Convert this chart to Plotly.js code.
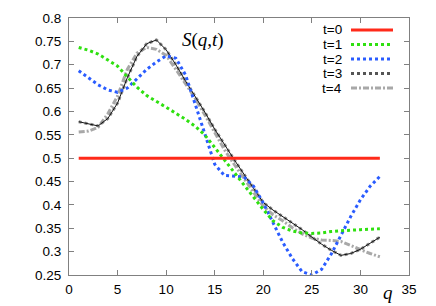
<!DOCTYPE html>
<html><head><meta charset="utf-8">
<script src="https://cdn.plot.ly/plotly-3.0.1.min.js"></script>
<style>html,body{margin:0;padding:0;background:#fff}#chart{width:436px;height:306px}</style>
</head><body><div id="chart"></div>
<script>
const q = [1,2,3,4,5,6,7,8,9,10,11,12,13,14,15,16,17,18,19,20,21,22,23,24,25,26,27,28,29,30,31,32];
const t0 = q.map(() => 0.5);
const t1 = [0.737,0.731,0.723,0.710,0.697,0.674,0.652,0.634,0.622,0.609,0.596,0.583,0.568,0.549,0.523,0.496,0.470,0.442,0.415,0.390,0.366,0.352,0.344,0.340,0.339,0.340,0.343,0.345,0.346,0.347,0.348,0.349];
const t2 = [0.687,0.672,0.657,0.646,0.641,0.650,0.670,0.690,0.706,0.719,0.714,0.678,0.615,0.553,0.487,0.463,0.461,0.460,0.440,0.404,0.362,0.320,0.285,0.257,0.250,0.262,0.295,0.335,0.375,0.411,0.440,0.461];
const t3 = [0.578,0.573,0.569,0.585,0.618,0.672,0.718,0.745,0.753,0.732,0.700,0.665,0.632,0.598,0.562,0.528,0.497,0.466,0.435,0.405,0.389,0.375,0.361,0.347,0.331,0.316,0.303,0.292,0.296,0.305,0.318,0.331];
const t4 = [0.556,0.558,0.566,0.595,0.633,0.690,0.725,0.737,0.733,0.720,0.690,0.660,0.628,0.592,0.555,0.518,0.487,0.457,0.427,0.397,0.379,0.366,0.351,0.338,0.329,0.325,0.324,0.322,0.313,0.304,0.296,0.289];
const names = ['t=0','t=1','t=2','t=3','t=4'];

const series = [t0,t1,t2,t3,t4];
const styles = [
  {color:'#ff2a1a', width:3, dash:'solid'},
  {color:'#2fe010', width:3, dash:'dot'},
  {color:'#2a5cff', width:3, dash:'dot'},
  {color:'#8a8a8a', width:3, dash:'dot'},
  {color:'#a8a8a8', width:3, dash:'6px,2px,2px,2px'}
];
const traces = [];
[4,3,2,1,0].forEach(i => {
  traces.push({x:q, y:series[i], type:'scatter', mode:'lines', name:names[i],
    line:styles[i], showlegend:false, hoverinfo:'skip'});
  if (i === 3) traces.push({x:q, y:series[i], type:'scatter', mode:'lines', name:names[i],
    line:{color:'#111', width:1}, showlegend:false, hoverinfo:'skip'});
});

const L = 69, R = 409, T = 18, B = 275;
const px = v => (v - L) / (R - L);
const py = v => (B - v) / (B - T);
const shapes = [], annotations = [];
names.forEach((n, i) => {
  const yy = py(30 + 14.5 * i);
  const st = i === 3 ? {color:'#555', width:3, dash:'dot'} : styles[i];
  shapes.push({type:'line', xref:'paper', yref:'paper', x0:px(351), x1:px(393), y0:yy, y1:yy, line:st});
  annotations.push({xref:'paper', yref:'paper', x:px(344), y:yy, xanchor:'right', yanchor:'middle', text:n, showarrow:false,
    font:{family:'Liberation Sans, Arial, sans-serif', size:13.5, color:'#000'}});
});
annotations.push({xref:'paper', yref:'paper', x:px(203), y:py(40), xanchor:'center', yanchor:'middle', text:'<i>S</i>(<i>q</i>,<i>t</i>)', showarrow:false,
  font:{family:'Liberation Serif, Times New Roman, serif', size:19, color:'#000'}});
annotations.push({xref:'paper', yref:'paper', x:px(388), y:py(292), xanchor:'center', yanchor:'middle', text:'<i>q</i>', showarrow:false,
  font:{family:'Liberation Serif, Times New Roman, serif', size:19, color:'#000'}});

const axisCommon = {showgrid:false, zeroline:false, showline:true, linecolor:'#808080', linewidth:1, mirror:'ticks',
  ticks:'inside', ticklen:5, tickcolor:'#808080', tickfont:{family:'Liberation Sans, Arial, sans-serif', size:13.5, color:'#000'}};
const layout = {
  width:436, height:306, margin:{l:L, r:436-R, t:T, b:306-B},
  paper_bgcolor:'#fff', plot_bgcolor:'#fff', showlegend:false,
  xaxis:Object.assign({}, axisCommon, {range:[0,35], tick0:0, dtick:5, ticklabelstandoff:2}),
  yaxis:Object.assign({}, axisCommon, {range:[0.25,0.8], tick0:0.25, dtick:0.05, ticklabelstandoff:4}),
  shapes:shapes, annotations:annotations
};
Plotly.newPlot('chart', traces, layout, {staticPlot:true, displayModeBar:false});
</script></body></html>
